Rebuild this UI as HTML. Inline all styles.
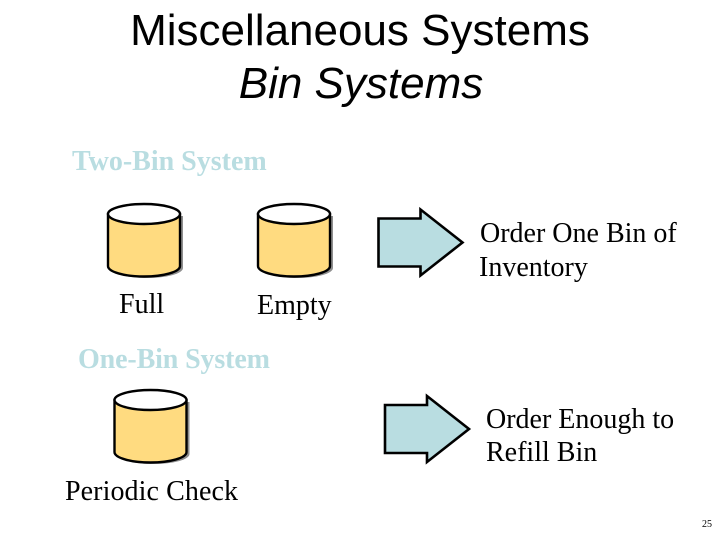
<!DOCTYPE html>
<html><head><meta charset="utf-8"><style>
html,body{margin:0;padding:0;background:#fff}
svg{display:block}
.t{font-family:"Liberation Sans",sans-serif;font-size:44px;fill:#000}
.s{font-family:"Liberation Serif",serif;font-size:28px;fill:#000}
.h{font-family:"Liberation Serif",serif;font-size:28px;font-weight:bold;fill:#b9dde1}
</style></head><body>
<svg width="720" height="540" viewBox="0 0 720 540" xmlns="http://www.w3.org/2000/svg">
<defs>
<g id="cyl">
<path d="M3 11 H75 V63 A36 10 0 0 1 3 63Z" fill="#8f8f8f" transform="translate(0,1)"/>
<path d="M0 10 V62 A36 10.5 0 0 0 72 62 V10Z" fill="#ffdb80" stroke="#000" stroke-width="2.4"/>
<ellipse cx="36" cy="10" rx="36" ry="10" fill="#fff" stroke="#000" stroke-width="2.4"/>
</g>
<polygon id="arr" points="0,9 42,9 42,0 84,33 42,66 42,57 0,57" fill="#b9dde1" stroke="#000" stroke-width="2.6" stroke-linejoin="miter"/>
</defs>
<text class="t" x="360" y="45" text-anchor="middle">Miscellaneous Systems</text>
<text class="t" x="361" y="98" text-anchor="middle" font-style="italic">Bin Systems</text>
<text class="h" x="72" y="170">Two-Bin System</text>
<use href="#cyl" x="108" y="204"/>
<use href="#cyl" x="258" y="204"/>
<use href="#arr" x="378.5" y="209.5"/>
<text class="s" x="480" y="242">Order One Bin of</text>
<text class="s" x="479" y="276">Inventory</text>
<text class="s" x="119" y="313">Full</text>
<text class="s" x="257" y="314">Empty</text>
<text class="h" x="78" y="368" textLength="192">One-Bin System</text>
<use href="#cyl" x="114.500" y="390"/>
<use href="#arr" x="385" y="396"/>
<text class="s" x="486" y="428">Order Enough to</text>
<text class="s" x="486" y="461">Refill Bin</text>
<text class="s" x="65" y="500" textLength="173">Periodic Check</text>
<text x="702" y="527" font-family="Liberation Serif, serif" font-size="10" fill="#000">25</text>
</svg>
</body></html>
